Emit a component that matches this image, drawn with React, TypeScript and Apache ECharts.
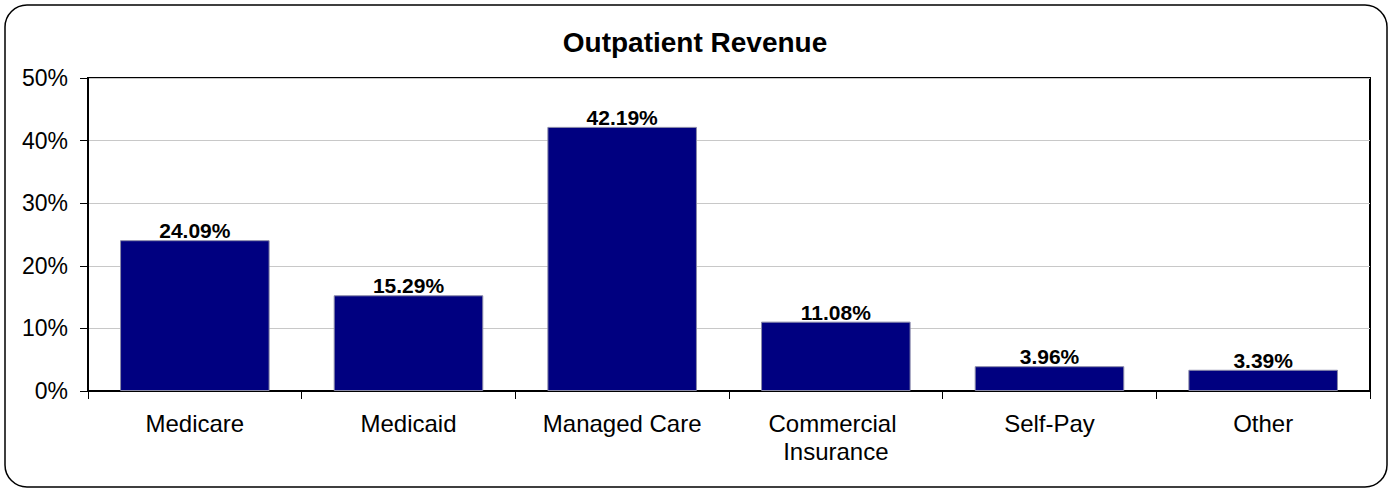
import React, { useEffect, useRef } from "react";
import * as echarts from "echarts";

const categories = ["Medicare", "Medicaid", "Managed Care", "Commercial Insurance", "Self-Pay", "Other"];
const revenueShare = [24.09, 15.29, 42.19, 11.08, 3.96, 3.39];
const yTicks = [0, 10, 20, 30, 40, 50];
const chartTitle = "Outpatient Revenue";

const FONT = '"Liberation Sans", Arial, Helvetica, sans-serif';

export default function App() {
  const ref = useRef<HTMLDivElement>(null);
  useEffect(() => {
    if (!ref.current) return;
    const chart = echarts.init(ref.current, null, { renderer: "svg" });
    chart.setOption({
      animation: false,
      backgroundColor: "#ffffff",
      title: {
        text: chartTitle,
        left: "center",
        top: 23,
        textStyle: { fontFamily: FONT, fontSize: 28, fontWeight: "bold", color: "#000" },
      },
      graphic: [
        {
          type: "rect",
          shape: { x: 5, y: 5, width: 1382, height: 482, r: 22 },
          style: { fill: "none", stroke: "#000", lineWidth: 1.5 },
          z: 100,
          silent: true,
        },
      ],
      grid: {
        left: 88,
        right: 20,
        top: 78,
        bottom: 98,
        show: true,
        borderColor: "#000",
        borderWidth: 2,
        backgroundColor: "transparent",
      },
      xAxis: {
        type: "category",
        data: categories,
        axisLine: { show: true, lineStyle: { color: "#000", width: 2 } },
        axisTick: { show: true, length: 8, lineStyle: { color: "#000", width: 1 } },
        axisLabel: {
          interval: 0,
          margin: 18,
          fontFamily: FONT,
          fontSize: 24,
          color: "#000",
          lineHeight: 28,
          width: 180,
          overflow: "break",
        },
      },
      yAxis: {
        type: "value",
        min: yTicks[0],
        max: yTicks[yTicks.length - 1],
        interval: 10,
        axisLine: { show: true, lineStyle: { color: "#000", width: 2 } },
        axisTick: { show: true, length: 8, lineStyle: { color: "#000", width: 1 } },
        axisLabel: {
          margin: 20,
          fontFamily: FONT,
          fontSize: 23,
          color: "#000",
          formatter: (v: number) => `${v}%`,
        },
        splitLine: { show: true, lineStyle: { color: "#c8c8c8", width: 1 } },
      },
      series: [
        {
          type: "bar",
          data: revenueShare,
          barCategoryGap: "30%",
          itemStyle: { color: "#000080", borderColor: "#8a8aa8", borderWidth: 1 },
          label: {
            show: true,
            position: "top",
            distance: -1,
            fontFamily: FONT,
            fontSize: 21,
            fontWeight: "bold",
            color: "#000",
            formatter: (p: any) => `${Number(p.value).toFixed(2)}%`,
          },
        },
      ],
    });
    return () => chart.dispose();
  }, []);
  return (
    <div
      ref={ref}
      style={{ position: "fixed", left: 0, top: 0, width: 1390, height: 489 }}
    />
  );
}
